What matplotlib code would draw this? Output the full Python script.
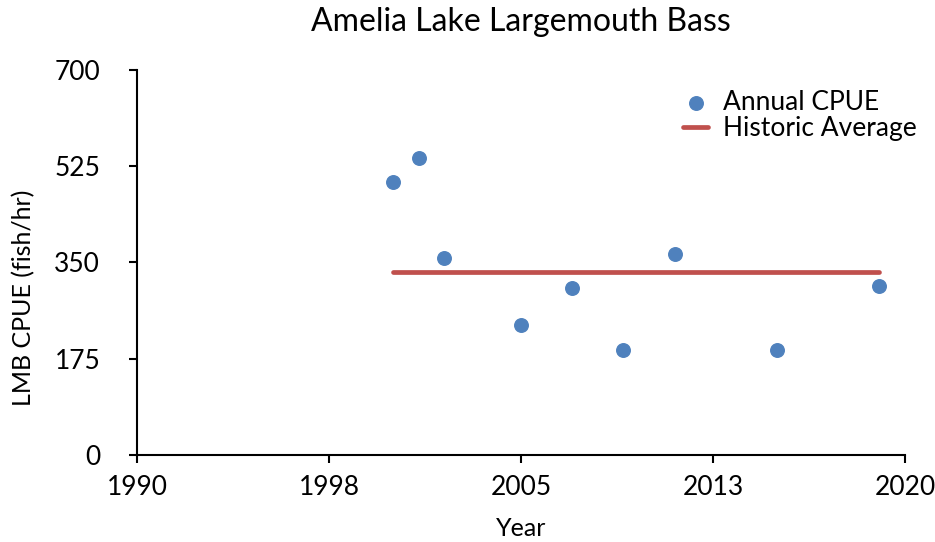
import matplotlib
matplotlib.use("Agg")
import matplotlib.pyplot as plt

plt.rcParams['font.family'] = ['Lato', 'DejaVu Sans']

years = [2000, 2001, 2002, 2005, 2007, 2009, 2011, 2015, 2019]
cpue = [496, 540, 358, 236, 304, 191, 365, 191, 307]
avg_years = [2000, 2019]
avg_value = 333
x_ticks = [1990, 1997.5, 2005, 2012.5, 2020]
x_labels = ["1990", "1998", "2005", "2013", "2020"]
y_ticks = [0, 175, 350, 525, 700]

fig = plt.figure(figsize=(9.35, 5.42), dpi=100)
ax = fig.add_axes([0.1465, 0.1605, 0.8215, 0.7105])

ax.plot(avg_years, [avg_value, avg_value], color='#C0504D', lw=3.4,
        solid_capstyle='round', label='Historic Average', zorder=2)
ax.scatter(years, cpue, s=95, color='#4F81BD', label='Annual CPUE', zorder=3)

ax.set_xlim(1990, 2020)
ax.set_ylim(0, 700)
ax.set_xticks(x_ticks)
ax.set_xticklabels(x_labels)
ax.set_yticks(y_ticks)
for s in ['top', 'right']:
    ax.spines[s].set_visible(False)
for s in ['left', 'bottom']:
    ax.spines[s].set_linewidth(1.5)
ax.tick_params(axis='both', direction='out', length=5.5, width=1.5, labelsize=19)
ax.tick_params(axis='x', pad=9)
ax.tick_params(axis='y', pad=21)
ax.set_xlabel('Year', fontsize=18, labelpad=12)
ax.set_ylabel('LMB CPUE (fish/hr)', fontsize=18)
ax.yaxis.set_label_coords(-0.133, 0.408)
ax.set_title('Amelia Lake Largemouth Bass', fontsize=23, pad=28)

handles, labels = ax.get_legend_handles_labels()
leg = ax.legend(handles[::-1], labels[::-1], loc='upper left', bbox_to_anchor=(0.711, 0.948),
                frameon=False, fontsize=19, handlelength=0.95, labelspacing=0.05,
                handletextpad=0.57, borderpad=0, borderaxespad=0, markerscale=1.0)

fig.savefig('out.png', dpi=100)
